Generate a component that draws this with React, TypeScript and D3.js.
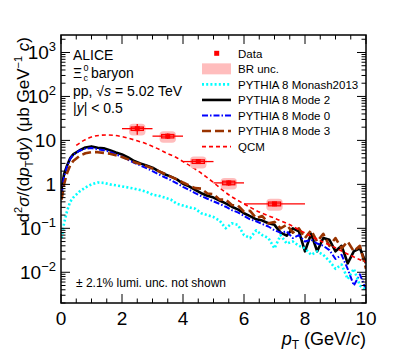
import React from 'react';
import * as d3 from 'd3';

// PYTHIA histograms share one pT grid (GeV/c)
const ptGrid = [0.02, 0.1, 0.2, 0.3, 0.4, 0.6, 0.8, 1.0, 1.2, 1.4, 1.6, 1.8, 2.0, 2.2, 2.4, 2.6, 2.8, 3.0, 3.2, 3.4,
  3.6, 3.8, 4.0, 4.2, 4.4, 4.6, 4.8, 5.0, 5.2, 5.4, 5.6, 5.8, 6.0, 6.2, 6.4, 6.6, 6.8, 7.0, 7.2, 7.4,
  7.6, 7.8, 8.0, 8.2, 8.4, 8.6, 8.8, 9.0, 9.2, 9.4, 9.6, 9.8, 10.0];

const mode2 = [0.8, 1.7, 2.7, 3.9, 4.8, 5.9, 6.9, 7.3, 6.8, 6.6, 6.0, 5.3, 4.8, 4.1, 3.4, 3.0, 2.7, 2.4, 2.0, 1.7,
  1.5, 1.3, 1.03, 0.9, 0.75, 0.63, 0.55, 0.5, 0.43, 0.37, 0.31, 0.27, 0.22, 0.19, 0.16, 0.15, 0.13, 0.12, 0.08, 0.068,
  0.1, 0.085, 0.03, 0.075, 0.03, 0.06, 0.055, 0.03, 0.04, 0.016, 0.03, 0.035, 0.016];

const mode0 = [0.6, 1.5, 2.6, 3.8, 4.7, 5.8, 6.5, 6.7, 6.3, 6.0, 5.5, 4.8, 4.3, 3.6, 3.1, 2.7, 2.35, 2.0, 1.7, 1.45,
  1.25, 1.05, 0.88, 0.75, 0.63, 0.54, 0.47, 0.41, 0.36, 0.31, 0.26, 0.23, 0.19, 0.16, 0.145, 0.125, 0.11, 0.09, 0.08, 0.085,
  0.06, 0.07, 0.05, 0.055, 0.045, 0.04, 0.032, 0.02, 0.025, 0.012, 0.005, 0.009, 0.004];

const mode3 = [0.45, 1.0, 1.8, 2.7, 3.4, 4.4, 5.1, 5.4, 5.4, 5.2, 5.0, 4.6, 4.2, 3.7, 3.2, 2.9, 2.6, 2.3, 2.0, 1.75,
  1.5, 1.3, 1.1, 0.95, 0.82, 0.8, 0.62, 0.6, 0.45, 0.45, 0.34, 0.33, 0.24, 0.25, 0.17, 0.19, 0.13, 0.14, 0.1, 0.12,
  0.08, 0.1, 0.06, 0.09, 0.05, 0.075, 0.04, 0.06, 0.035, 0.05, 0.03, 0.04, 0.012];

const monash = [0.06, 0.13, 0.25, 0.4, 0.5, 0.68, 0.85, 1.0, 1.1, 1.08, 1.0, 0.95, 0.9, 0.85, 0.8, 0.74, 0.68, 0.58, 0.55, 0.5,
  0.45, 0.36, 0.33, 0.3, 0.28, 0.22, 0.2, 0.18, 0.15, 0.1, 0.13, 0.12, 0.07, 0.06, 0.09, 0.07, 0.06, 0.035, 0.07, 0.045,
  0.05, 0.04, 0.035, 0.025, 0.03, 0.025, 0.018, 0.012, 0.015, 0.007, 0.012, 0.005, 0.004];

// QCM prediction
const qcmPt = [0.5, 0.75, 1, 1.25, 1.5, 1.75, 2, 2.25, 2.5, 2.75, 3, 3.25, 3.5, 3.75, 4, 4.25, 4.5, 4.75, 5, 5.5,
  6, 6.5, 7, 7.5, 8, 8.5, 9, 9.5, 10];
const qcmVal = [7.7, 10, 12, 13, 13.3, 13, 12.2, 11, 9.8, 8.6, 7.3, 6.1, 5.0, 4.2, 3.3, 2.6, 2.0, 1.5, 1.1, 0.58,
  0.36, 0.235, 0.17, 0.12, 0.078, 0.052, 0.036, 0.024, 0.017];

// measured points
const dataPt = [2.5, 3.5, 4.5, 5.5, 7.0];
const dataLo = [2, 3, 4, 5, 6];
const dataHi = [3, 4, 5, 6, 8];
const dataVal = [18.5, 12.5, 3.3, 1.08, 0.36];
const statErr = [5, 1.8, 0.4, 0.15, 0.04];
const systErr = [1.6, 1.1, 0.3, 0.1, 0.035];
const brErr = [5.5, 3.7, 1.0, 0.32, 0.11];

const xTicks = [0, 2, 4, 6, 8, 10];
const yTicks = [0.01, 0.1, 1, 10, 100, 1000];
const yTickBase = ['10', '10', '1', '10', '10', '10'];
const yTickExp = ['\u22122', '\u22121', '', '', '2', '3'];

const legendLabels = ['Data', 'BR unc.', 'PYTHIA 8 Monash2013', 'PYTHIA 8 Mode 2', 'PYTHIA 8 Mode 0', 'PYTHIA 8 Mode 3', 'QCM'];

const FONT = 'Liberation Sans, Arial, Helvetica, sans-serif';

const styles = {
  monash: { stroke: '#00ffff', width: 2.6, dash: '2 2.2' },
  mode2: { stroke: '#000000', width: 2.6, dash: undefined },
  mode0: { stroke: '#0000ff', width: 2, dash: '6 2 1.5 2' },
  mode3: { stroke: '#993300', width: 2.6, dash: '9 4' },
  qcm: { stroke: '#ff0000', width: 1.6, dash: '4 3' },
};

export default function App() {
  const W = 407, H = 358;
  const L = 61, R = 366, T = 35, B = 303;

  const x = d3.scaleLinear().domain([0, 10]).range([L, R]);
  const y = d3.scaleLog().domain([0.002, 2500]).range([B, T]);

  const line = d3.line<[number, number]>().x(d => x(d[0])).y(d => y(d[1]));
  const smooth = d3.line<[number, number]>().x(d => x(d[0])).y(d => y(d[1])).curve(d3.curveMonotoneX);

  const series = (vals: number[]) => ptGrid.map((p, i) => [p, vals[i]] as [number, number]);

  const xMinor = d3.range(0, 10.01, 0.5);
  const yMinor: number[] = [];
  [0.001, 0.01, 0.1, 1, 10, 100, 1000].forEach(dec => {
    for (let k = 2; k <= 9; k++) {
      const v = dec * k;
      if (v >= 0.002 && v <= 2500) yMinor.push(v);
    }
  });

  const curves = [
    { key: 'mode2', vals: mode2 },
    { key: 'mode0', vals: mode0 },
    { key: 'mode3', vals: mode3 },
    { key: 'monash', vals: monash },
  ];

  const legendStyle = [null, null, styles.monash, styles.mode2, styles.mode0, styles.mode3, styles.qcm];
  const legendY0 = 53.3, legendDy = 15.55;

  return (
    <svg width={W} height={H} style={{ position: 'absolute', left: 0, top: 0, background: '#fff' }} fontFamily={FONT}>
      <defs>
        <clipPath id="frame"><rect x={L} y={T} width={R - L} height={B - T} /></clipPath>
      </defs>

      {/* model curves */}
      <g clipPath="url(#frame)" fill="none">
        {curves.map(c => {
          const s = (styles as any)[c.key];
          return <path key={c.key} d={line(series(c.vals)) || ''} stroke={s.stroke} strokeWidth={s.width}
            strokeDasharray={s.dash} strokeLinejoin="round" />;
        })}
        <path d={smooth(qcmPt.map((p, i) => [p, qcmVal[i]] as [number, number])) || ''} stroke={styles.qcm.stroke}
          strokeWidth={styles.qcm.width} strokeDasharray={styles.qcm.dash} />
      </g>

      {/* data: BR band, syst boxes, stat bars, markers */}
      {dataPt.map((p, i) => (
        <rect key={`br${i}`} x={x(p - 0.27)} y={y(dataVal[i] + brErr[i])} width={x(p + 0.27) - x(p - 0.27)}
          height={y(dataVal[i] - brErr[i]) - y(dataVal[i] + brErr[i])} rx={4} fill="#ffbdbd" />
      ))}
      {dataPt.map((p, i) => (
        <g key={`d${i}`} stroke="#ff0000" strokeWidth={1.3} fill="none">
          <line x1={x(dataLo[i])} x2={x(dataHi[i])} y1={y(dataVal[i])} y2={y(dataVal[i])} />
          <line x1={x(p)} x2={x(p)} y1={y(dataVal[i] + statErr[i])} y2={y(dataVal[i] - statErr[i])} />
          <rect x={x(p - 0.2)} y={y(dataVal[i] + systErr[i])} width={x(p + 0.2) - x(p - 0.2)}
            height={y(dataVal[i] - systErr[i]) - y(dataVal[i] + systErr[i])} />
          <rect x={x(p) - 2.5} y={y(dataVal[i]) - 2.5} width={5} height={5} fill="#ff0000" stroke="none" />
        </g>
      ))}

      {/* frame and ticks */}
      <rect x={L} y={T} width={R - L} height={B - T} fill="none" stroke="#000" strokeWidth={1.5} />
      <g stroke="#000" strokeWidth={1}>
        {xMinor.map(v => {
          const len = xTicks.includes(v) ? 9 : 4.5;
          return (
            <g key={`xt${v}`}>
              <line x1={x(v)} x2={x(v)} y1={B} y2={B - len} />
              <line x1={x(v)} x2={x(v)} y1={T} y2={T + len} />
            </g>
          );
        })}
        {yTicks.map(v => (
          <g key={`yt${v}`}>
            <line x1={L} x2={L + 9} y1={y(v)} y2={y(v)} />
            <line x1={R} x2={R - 9} y1={y(v)} y2={y(v)} />
          </g>
        ))}
        {yMinor.map(v => (
          <g key={`ym${v}`}>
            <line x1={L} x2={L + 4.5} y1={y(v)} y2={y(v)} />
            <line x1={R} x2={R - 4.5} y1={y(v)} y2={y(v)} />
          </g>
        ))}
      </g>

      {/* tick labels */}
      {xTicks.map(v => (
        <text key={`xl${v}`} x={x(v)} y={325} textAnchor="middle" fontSize={19}>{v}</text>
      ))}
      {yTicks.map((v, i) => (
        <text key={`yl${v}`} x={56} y={y(v) + 7} textAnchor="end" fontSize={19}>
          {yTickBase[i]}
          {yTickExp[i] && <tspan fontSize={13} dy={-8}>{yTickExp[i]}</tspan>}
        </text>
      ))}

      {/* axis titles */}
      <text x={R} y={345} textAnchor="end" fontSize={18}>
        <tspan fontStyle="italic">p</tspan>
        <tspan fontSize={12} dy={4}>T</tspan>
        <tspan dy={-4}> (GeV/</tspan>
        <tspan fontStyle="italic">c</tspan>)
      </text>
      <text transform={`translate(29, ${T + 2}) rotate(-90)`} textAnchor="end" fontSize={17}>
        d<tspan fontSize={11} dy={-7}>2</tspan>
        <tspan dy={7} fontStyle="italic">σ</tspan>/(d<tspan fontStyle="italic">p</tspan>
        <tspan fontSize={11} dy={4}>T</tspan>
        <tspan dy={-4}>d</tspan><tspan fontStyle="italic">y</tspan>) (μb GeV<tspan fontSize={11} dy={-7}>−1</tspan>
        <tspan dy={7}> </tspan><tspan fontStyle="italic">c</tspan>)
      </text>

      {/* header text */}
      <g fontSize={14}>
        <text x={73} y={59.5}>ALICE</text>
        <text x={73} y={77.7}>Ξ</text>
        <text x={83.5} y={81} fontSize={9}>c</text>
        <text x={83.5} y={71} fontSize={9}>0</text>
        <text x={91} y={77.7}>baryon</text>
        <text x={73} y={95.5}>pp, √<tspan fontStyle="italic">s</tspan> = 5.02 TeV</text>
        <text x={73} y={113.3}>|<tspan fontStyle="italic">y</tspan>| &lt; 0.5</text>
      </g>
      <text x={76} y={287} fontSize={12}>± 2.1% lumi. unc. not shown</text>

      {/* legend */}
      {legendLabels.map((lab, i) => {
        const cy = legendY0 + i * legendDy;
        const st = legendStyle[i];
        return (
          <g key={lab}>
            {i === 0 && <rect x={214.2} y={cy - 2.5} width={5} height={5} fill="#ff0000" />}
            {i === 1 && <rect x={202} y={cy - 5.5} width={29} height={11} fill="#ffbdbd" />}
            {st && <line x1={202} x2={231} y1={cy} y2={cy} stroke={st.stroke} strokeWidth={st.width}
              strokeDasharray={st.dash} />}
            <text x={238} y={cy + 4.2} fontSize={11.5}>{lab}</text>
          </g>
        );
      })}
    </svg>
  );
}
